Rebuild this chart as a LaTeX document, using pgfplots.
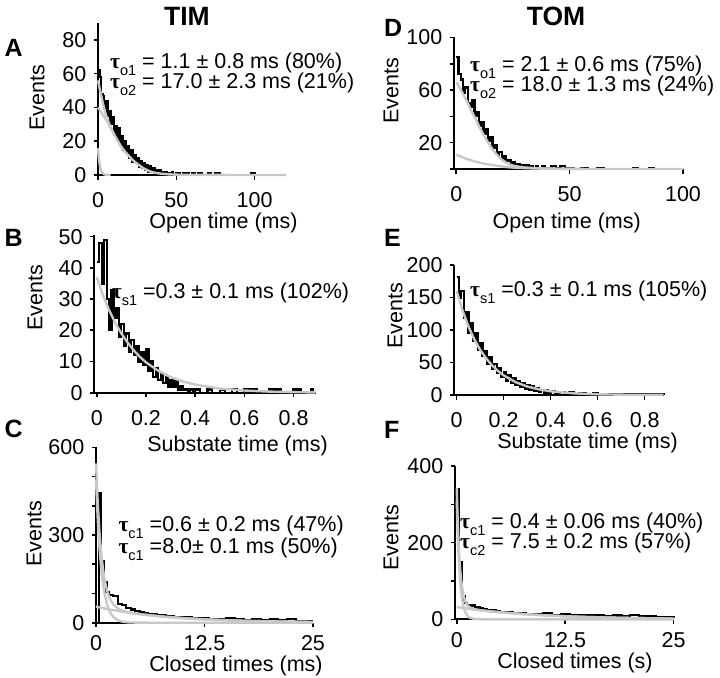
\documentclass[border=0pt]{standalone}
\usepackage{pgfplots}
\pgfplotsset{compat=1.18}
\usepackage{fontspec}
\setmainfont{Liberation Sans}
\newfontfamily\taufont{Liberation Serif}
\definecolor{fitgrey}{RGB}{200,200,200}
\newcommand\lbl{\fontsize{21.5bp}{24bp}\selectfont}
\newcommand\T[1]{{\taufont\bfseries τ}\raisebox{-0.32em}{\fontsize{14.5bp}{15bp}\selectfont #1}}
\pgfplotsset{
  panel/.style={
    scale only axis, axis lines=left,
    axis line style={-, line width=2.2bp, black},
    tick align=outside, major tick length=4.5bp,
    every tick/.style={black, line width=1.6bp},
    tick label style={font=\lbl},
    /pgf/number format/assume math mode=true,
    clip=false,
    xticklabel style={anchor=base, inner sep=0pt, yshift=-28bp},
    yticklabel style={anchor=east, inner sep=0pt, xshift=-7bp},
  },
  hist/.style={const plot, black, line width=2.2bp},
  fit/.style={fitgrey, line width=2.4bp},
}
\begin{document}
\begin{tikzpicture}
\useasboundingbox (0,0) rectangle (720bp,-678bp);

% ---------------- A ----------------
\begin{axis}[panel, at={(98bp,-175bp)}, anchor=south west,
  width=188bp, height=152bp, xmin=0, xmax=120, ymin=0, ymax=90,
  xtick={0,50,100}, ytick={0,20,40,60,80}]
\addplot[hist] coordinates {(0,62) (1,58) (2,48) (3,47) (4,40) (5,44) (6,35) (7,38) (8,30) (9,34) (10,24) (11,29) (12,21) (13,28) (14,18) (15,23) (16,15) (17,20) (18,13) (19,17) (20,10) (21,15) (22,8) (23,12) (24,7) (25,10) (26,5) (27,8) (28,4) (29,7) (30,3) (31,6) (32,2) (33,5) (34,2) (35,4) (36,1) (37,3) (38,1) (39,3) (40,1) (41,2) (42,0) (43,2) (44,1) (45,1) (46,0) (47,2) (48,0) (50,1) (52,0) (54,1) (56,1) (58,0) (60,1) (62,0) (64,1) (66,0) (70,1) (72,0) (75,1) (78,0) (98,1) (100,0) (101,0)};
\addplot[fit] coordinates {(0,16) (0.5,10.2) (1,6.5) (1.5,4.1) (2,2.6) (2.5,1.7) (3,1.05) (4,0.4) (5,0.17) (6,0.07) (8,0)};
\addplot[fit] coordinates {(0,40) (1,38.6) (2,37.1) (3,35.7) (4,34.3) (5,33) (6,31.7) (8,28) (10,24.5)};
\addplot[fit] coordinates {(0,56) (1,51.5) (2,47.3) (3,43) (4,39.2) (5,35.8) (6,33) (8,28.2) (10,24.5) (12,21.3) (14,18) (16,15.3) (18,13) (20,11) (22,9) (24,7.4) (26,6) (28,4.6) (30,3.5) (33,2.2) (36,1.4) (40,0.8) (45,0.4) (50,0.2) (60,0.05) (120,0)};
\end{axis}

% ---------------- B ----------------
\begin{axis}[panel, at={(94.3bp,-392.7bp)}, anchor=south west,
  width=221.4bp, height=157.6bp, xmin=-0.01, xmax=0.89, ymin=0, ymax=50.5,
  xtick={0,0.2,0.4,0.6,0.8}, ytick={0,10,20,30,40,50}]
\addplot[hist] coordinates {(0,42) (0.01,48) (0.02,35) (0.03,49) (0.04,30) (0.05,20) (0.06,33) (0.07,24) (0.08,27) (0.09,18) (0.10,22) (0.11,15) (0.12,19) (0.13,13) (0.14,17) (0.15,12) (0.16,15) (0.17,10) (0.18,13) (0.19,9) (0.20,14) (0.21,7) (0.22,10) (0.23,5) (0.24,8) (0.25,4) (0.26,6) (0.27,3) (0.28,5) (0.29,2) (0.30,4) (0.31,2) (0.32,4) (0.33,1) (0.34,2) (0.35,1) (0.36,1) (0.37,0) (0.38,1) (0.39,0) (0.40,1) (0.42,0) (0.45,1) (0.47,0) (0.50,1) (0.52,0) (0.55,1) (0.57,0) (0.60,1) (0.65,0) (0.70,1) (0.75,0) (0.80,1) (0.83,0) (0.87,1) (0.88,0)};
\addplot[fit] coordinates {(0,37) (0.025,31.3) (0.05,26.5) (0.075,22.4) (0.1,19.0) (0.125,16.1) (0.15,13.6) (0.175,11.5) (0.2,9.75) (0.25,7.0) (0.3,5.0) (0.35,3.6) (0.4,2.6) (0.5,1.3) (0.6,0.7) (0.7,0.35) (0.8,0.18) (0.89,0.09)};
\end{axis}

% ---------------- C ----------------
\begin{axis}[panel, at={(96bp,-622.7bp)}, anchor=south west,
  width=217bp, height=175.4bp, xmin=0, xmax=25, ymin=0, ymax=600,
  xtick={0,12.5,25}, ytick={0,300,600}, extra y ticks={100,200,400,500}, extra y tick labels={},
  xticklabel style={yshift=5bp}]
\addplot[hist] coordinates {(0,0) (0.35,445) (0.6,210) (0.9,140) (1.2,105) (1.5,95) (2.0,92) (2.5,65) (3.0,60) (3.5,50) (4,45) (4.5,40) (5,35) (5.5,33) (6,30) (7,25) (8,22) (9,20) (10,18) (11,15) (12,17) (13,14) (14,12) (15,15) (16,11) (17,10) (18,12) (19,9) (20,14) (21,8) (22,12) (23,7) (24,5) (25,5)};
\addplot[fit] coordinates {(0,490) (0.2,354.9) (0.4,257.1) (0.6,186.2) (0.8,134.8) (1.0,97.7) (1.25,65.3) (1.5,43.6) (1.75,29.2) (2,19.5) (2.5,8.7) (3,3.9) (3.5,1.7) (4,0.8) (5,0.2) (6,0) (25,0)};
\addplot[fit] coordinates {(0,55) (0.5,51.6) (1,48.5) (1.5,45.5) (2,42.8) (2.5,40.4) (3,37.8) (3.5,35.6) (4,33.4) (5,29.4) (6,26.0) (8,20.2) (10,15.8) (12.5,11.5) (15,8.4) (17.5,6.2) (20,4.5) (22.5,3.3) (25,2.4)};
\addplot[fit] coordinates {(0,545) (0.2,408.5) (0.4,309.4) (0.6,237.2) (0.8,184.6) (1.0,146.2) (1.25,112.3) (1.5,89.1) (1.75,73.4) (2,62.3) (2.5,49.1) (3,41.7) (3.5,37.3) (4,34.2) (5,29.6) (6,26.0) (8,20.2) (10,15.8) (12.5,11.5) (15,8.4) (17.5,6.2) (20,4.5) (22.5,3.3) (25,2.4)};
\end{axis}

% ---------------- D ----------------
\begin{axis}[panel, at={(454bp,-169bp)}, anchor=south west,
  width=229bp, height=131.6bp, xmin=-1, xmax=100, ymin=0, ymax=100,
  xtick={0,50,100}, ytick={20,60,100}, extra y ticks={0,40,80}, extra y tick labels={}]
\addplot[hist] coordinates {(0,85) (1,72) (2,68) (3,58) (4,62) (5,50) (6,47) (7,52) (8,40) (9,43) (10,33) (11,36) (12,27) (13,30) (14,21) (15,24) (16,16) (17,18) (18,11) (19,13) (20,8) (21,10) (22,6) (23,7) (24,4) (25,5) (26,3) (27,4) (28,2) (29,3) (30,2) (31,3) (32,1) (33,2) (34,1) (35,2) (36,1) (37,1) (38,2) (39,1) (40,1) (42,2) (44,1) (46,2) (48,1) (50,1) (52,0) (55,1) (58,0) (62,1) (65,0) (78,1) (80,0) (85,1) (87,0) (90,0)};
\addplot[fit] coordinates {(0,11) (0.4,10.6) (4,8) (8.4,5.6) (12,4.1) (15.7,3.0) (20,2) (23,1.3) (28,0.8) (35,0.4) (45,0.15) (55,0)};
\addplot[fit] coordinates {(0,65.5) (0.4,65.1) (2.5,58.5) (4.8,51.2) (6.6,44.5) (8.4,38.5) (10.2,32) (12.1,25.8) (14,20.3) (15.7,15.7) (17.5,11.6) (19.4,8.1) (21.2,5.7) (23,3.8) (25,2.6) (27.4,1.8) (30,1.2) (35,0.6) (40,0.3) (50,0.1) (60,0) (100,0)};
\end{axis}

% ---------------- E ----------------
\begin{axis}[panel, at={(454.3bp,-395bp)}, anchor=south west,
  width=209.2bp, height=130bp, xmin=-0.01, xmax=0.88, ymin=0, ymax=200,
  xtick={0,0.2,0.4,0.6,0.8}, ytick={0,50,100,150,200}]
\addplot[hist] coordinates {(0,182) (0.01,150) (0.02,160) (0.03,118) (0.04,128) (0.05,96) (0.06,110) (0.07,84) (0.08,95) (0.09,70) (0.10,80) (0.11,60) (0.12,68) (0.13,48) (0.14,58) (0.15,40) (0.16,48) (0.17,34) (0.18,42) (0.19,28) (0.20,36) (0.21,22) (0.22,30) (0.23,18) (0.24,26) (0.25,15) (0.26,22) (0.27,12) (0.28,18) (0.29,10) (0.30,16) (0.31,8) (0.32,13) (0.33,6) (0.34,10) (0.35,5) (0.36,8) (0.37,4) (0.38,7) (0.39,3) (0.40,6) (0.42,3) (0.44,5) (0.46,2) (0.48,4) (0.50,2) (0.52,3) (0.55,1) (0.58,3) (0.60,1) (0.63,2) (0.66,1) (0.70,2) (0.74,1) (0.78,2) (0.82,1) (0.86,2) (0.88,1)};
\addplot[fit] coordinates {(0,160) (0.025,129.9) (0.05,105.5) (0.075,85.6) (0.1,69.5) (0.125,56.5) (0.15,45.8) (0.175,37.2) (0.2,30.2) (0.25,19.9) (0.3,13.1) (0.35,8.7) (0.4,5.7) (0.5,2.5) (0.6,1.1) (0.7,0.5) (0.8,0.2) (0.88,0.1)};
\end{axis}

% ---------------- F ----------------
\begin{axis}[panel, at={(455bp,-619.3bp)}, anchor=south west,
  width=218.5bp, height=153.3bp, xmin=-0.2, xmax=25, ymin=0, ymax=400,
  xtick={0,12.5,25}, ytick={0,200,400}, extra y ticks={100,300}, extra y tick labels={},
  xticklabel style={yshift=4.5bp}]
\addplot[hist] coordinates {(0,340) (0.3,150) (0.6,60) (0.9,42) (1.2,38) (1.5,34) (1.8,36) (2.1,30) (2.4,32) (2.7,28) (3,26) (3.5,24) (4,25) (4.5,21) (5,20) (5.5,18) (6,19) (6.5,16) (7,15) (7.5,17) (8,14) (9,13) (10,15) (11,12) (12,13) (13,11) (14,12) (15,10) (16,11) (17,9) (18,10) (19,8) (20,12) (21,8) (22,9) (23,7) (24,6) (25,5)};
\addplot[fit] coordinates {(0,310) (0.1,233) (0.2,175) (0.3,131.6) (0.4,98.9) (0.5,74.3) (0.6,55.8) (0.8,31.5) (1.0,17.8) (1.25,8.7) (1.5,4.3) (2,1.0) (2.5,0.2) (3,0) (25,0)};
\addplot[fit] coordinates {(0,32) (0.5,30.3) (1,28.6) (1.5,27.1) (2,25.6) (2.5,24.3) (3,22.9) (4,20.5) (5,18.4) (6,16.4) (8,13.2) (10,10.5) (12.5,8.0) (15,6.04) (17.5,4.58) (20,3.46) (22.5,2.63) (25,1.99)};
\addplot[fit] coordinates {(0,342) (0.1,264.6) (0.2,206.3) (0.3,162.6) (0.4,129.5) (0.5,104.6) (0.6,85.7) (0.8,60.8) (1.0,46.4) (1.25,36.5) (1.5,31.4) (2,26.6) (2.5,24.5) (3,22.9) (4,20.5) (5,18.4) (6,16.4) (8,13.2) (10,10.5) (12.5,8.0) (15,6.04) (17.5,4.58) (20,3.46) (22.5,2.63) (25,1.99)};
\end{axis}

% ---------------- texts ----------------
\begin{scope}[every node/.style={inner sep=0pt}]
\node[anchor=base, font=\bfseries\fontsize{26.5bp}{28bp}\selectfont] at (187bp,-25bp) {TIM};
\node[anchor=base, font=\bfseries\fontsize{26.5bp}{28bp}\selectfont] at (556bp,-25bp) {TOM};
\node[anchor=base west, font=\bfseries\fontsize{25bp}{27bp}\selectfont] at (4.5bp,-56.7bp) {A};
\node[anchor=base west, font=\bfseries\fontsize{25bp}{27bp}\selectfont] at (4.5bp,-246.7bp) {B};
\node[anchor=base west, font=\bfseries\fontsize{25bp}{27bp}\selectfont] at (4.5bp,-437.5bp) {C};
\node[anchor=base west, font=\bfseries\fontsize{25bp}{27bp}\selectfont] at (384bp,-36.7bp) {D};
\node[anchor=base west, font=\bfseries\fontsize{25bp}{27bp}\selectfont] at (384bp,-246.7bp) {E};
\node[anchor=base west, font=\bfseries\fontsize{25bp}{27bp}\selectfont] at (384bp,-438bp) {F};
% y labels
\node[rotate=90, font=\lbl] at (37bp,-98bp) {Events};
\node[rotate=90, font=\lbl] at (35bp,-298bp) {Events};
\node[rotate=90, font=\lbl] at (34bp,-534bp) {Events};
\node[rotate=90, font=\lbl] at (391bp,-91bp) {Events};
\node[rotate=90, font=\lbl] at (395bp,-316bp) {Events};
\node[rotate=90, font=\lbl] at (391bp,-537.5bp) {Events};
% x labels
\node[anchor=base, font=\lbl] at (223.5bp,-228.5bp) {Open time (ms)};
\node[anchor=base, font=\lbl] at (566.7bp,-228.7bp) {Open time (ms)};
\node[anchor=base, font=\lbl] at (237.5bp,-451bp) {Substate time (ms)};
\node[anchor=base, font=\lbl] at (587.5bp,-448.5bp) {Substate time (ms)};
\node[anchor=base, font=\lbl] at (236bp,-671.5bp) {Closed times (ms)};
\node[anchor=base, font=\lbl] at (575bp,-668bp) {Closed times (s)};
% annotations
\node[anchor=base west, font=\lbl] at (110bp,-68.3bp) {\T{o1} = 1.1 ± 0.8 ms (80\%)};
\node[anchor=base west, font=\lbl] at (110bp,-88.3bp) {\T{o2} = 17.0 ± 2.3 ms (21\%)};
\node[anchor=base west, font=\lbl] at (470bp,-71.7bp) {\T{o1} = 2.1 ± 0.6 ms (75\%)};
\node[anchor=base west, font=\lbl] at (470bp,-91.7bp) {\T{o2} = 18.0 ± 1.3 ms (24\%)};
\node[anchor=base west, font=\lbl] at (111.7bp,-298.3bp) {\T{s1} =0.3 ± 0.1 ms (102\%)};
\node[anchor=base west, font=\lbl] at (470bp,-296.7bp) {\T{s1} =0.3 ± 0.1 ms (105\%)};
\node[anchor=base west, font=\lbl] at (118.3bp,-531.7bp) {\T{c1} =0.6 ± 0.2 ms (47\%)};
\node[anchor=base west, font=\lbl] at (118.3bp,-553.3bp) {\T{c1} =8.0± 0.1 ms (50\%)};
\node[anchor=base west, font=\lbl] at (460bp,-528.3bp) {\T{c1} = 0.4 ± 0.06 ms (40\%)};
\node[anchor=base west, font=\lbl] at (460bp,-548.3bp) {\T{c2} = 7.5 ± 0.2 ms (57\%)};
\end{scope}
\end{tikzpicture}
\end{document}
